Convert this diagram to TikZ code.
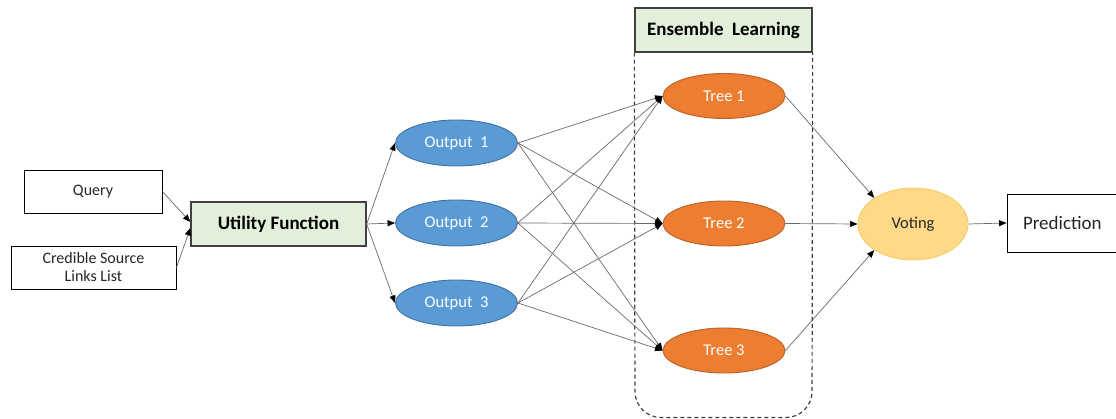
\documentclass[tikz,border=0pt]{standalone}
\usepackage{fontspec}
\setmainfont{Carlito}
\usetikzlibrary{arrows.meta,shapes.geometric}

\definecolor{boxgreen}{HTML}{E2EFDA}
\definecolor{boxedge}{HTML}{404040}
\definecolor{bluefill}{HTML}{5B9BD5}
\definecolor{blueedge}{HTML}{41719C}
\definecolor{orangefill}{HTML}{ED7D31}
\definecolor{orangeedge}{HTML}{B6622A}
\definecolor{votefill}{HTML}{FFD98A}
\definecolor{voteedge}{HTML}{F9CD6A}
\definecolor{linkgray}{HTML}{6A6A6A}
\definecolor{textdark}{HTML}{262626}

\tikzset{
  plainbox/.style={draw=black, line width=0.9pt, fill=white, inner sep=0pt,
    text=textdark, font=\fontsize{16}{19}\selectfont, align=center},
  greenbox/.style={draw=boxedge, line width=1.3pt, fill=boxgreen, inner sep=0pt,
    text=black, font=\fontsize{19}{22}\bfseries},
  bluenode/.style={ellipse, draw=blueedge, line width=0.9pt, fill=bluefill, inner sep=0pt,
    minimum width=122pt, minimum height=46pt, text=white, font=\fontsize{16.5}{19}\selectfont},
  treenode/.style={ellipse, draw=orangeedge, line width=0.9pt, fill=orangefill, inner sep=0pt,
    minimum width=122pt, minimum height=45pt, text=white, font=\fontsize{16.5}{19}\selectfont},
  link/.style={draw=linkgray, line width=0.7pt,
    -{Triangle[length=7.5pt,width=6pt,color=black]}},
}

\begin{document}
\begin{tikzpicture}[x=1pt,y=-1pt]
\useasboundingbox (0,0) rectangle (1116,419);
\clip (0,0) rectangle (1116,419);

% inputs and utility function
\node[plainbox, minimum width=138pt, minimum height=43pt] (query) at (93,191.5) {Query};
\node[plainbox, minimum width=165pt, minimum height=43pt] (cred) at (93.5,267.5)
  {Credible Source\\[-1pt]Links List};
\node[greenbox, minimum width=175pt, minimum height=44pt] (util) at (278.5,224) {Utility Function};

% outputs of the utility function
\node[bluenode] (o1) at (456.5,143) {Output\ \ 1};
\node[bluenode] (o2) at (456.5,223) {Output\ \ 2};
\node[bluenode] (o3) at (456.5,303) {Output\ \ 3};

% ensemble of trees
\node[greenbox, minimum width=177pt, minimum height=44pt] (ens) at (723.5,30) {Ensemble\ \ Learning};
\draw[boxedge, line width=1.2pt, dash pattern=on 4pt off 3pt, rounded corners=26pt]
  (ens.south west) -- (635,417.5) -- (812,417.5) -- (ens.south east);

\node[treenode] (t1) at (724,96) {Tree 1};
\node[treenode] (t2) at (724,223.5) {Tree 2};
\node[treenode] (t3) at (724,350.5) {Tree 3};

% voting and prediction
\node[ellipse, draw=voteedge, line width=1pt, fill=votefill, inner sep=0pt,
  minimum width=110pt, minimum height=72pt, text=textdark,
  font=\fontsize{16.5}{19}\selectfont] (vote) at (913,224) {Voting};
\node[draw=black, line width=0.9pt, fill=white, inner sep=0pt,
  minimum width=140pt, minimum height=58pt, text=textdark,
  font=\fontsize{19}{22}\selectfont, text width=120pt, align=left] (pred) at (1077,223) {\hspace*{6pt}Prediction};

% connectors
\draw[link] (query.east) -- ([yshift=2pt]util.west);
\draw[link] (cred.east) -- ([yshift=-4pt]util.west);
\foreach \o in {o1,o2,o3} {
  \draw[link] (util.east) -- (\o.west);
  \foreach \t in {t1,t2,t3}
    \draw[link] (\o.east) -- (\t.west);
}
\draw[link] (t1.east) -- (vote.146);
\draw[link] (t2.east) -- (vote.west);
\draw[link] (t3.east) -- (vote.-146);
\draw[link] (vote.east) -- (pred.west);
\end{tikzpicture}
\end{document}
